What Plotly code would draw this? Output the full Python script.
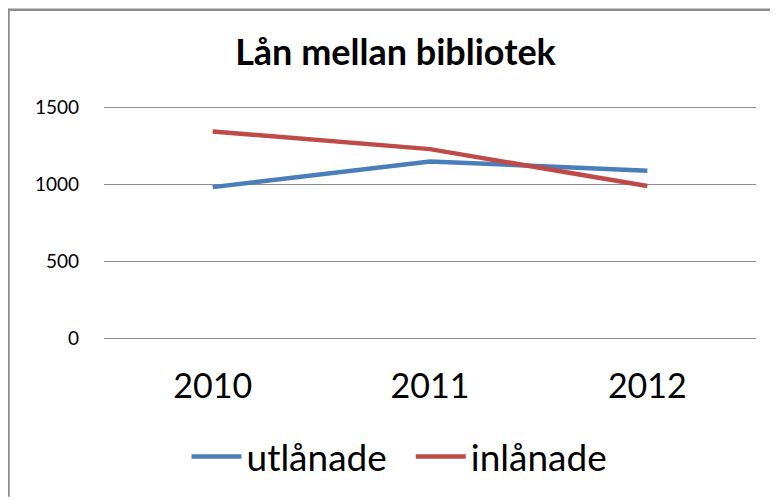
import plotly.graph_objects as go

years = ['2010', '2011', '2012']
utlanade = [983, 1150, 1090]
inlanade = [1345, 1230, 990]
y_ticks = [0, 500, 1000, 1500]

FONT = "Lato"

fig = go.Figure()

fig.add_trace(go.Scatter(
    x=years, y=utlanade, name='utlånade\u00a0\u00a0', mode='lines',
    line=dict(color='#4A7EBB', width=4.5)
))
fig.add_trace(go.Scatter(
    x=years, y=inlanade, name='inlånade', mode='lines',
    line=dict(color='#BE4B48', width=4.5)
))

# page body has an 8px margin, so the figure is drawn 8px in from the window edge
W, H = 770, 492
L, R, T, B = 96, 22, 98, 158
pw, ph = W - L - R, H - T - B

def px(xp):
    return (xp - L) / pw

def py(yp):
    return (H - B - yp) / ph

# chart border (only top and left visible)
fig.add_shape(type='line', xref='paper', yref='paper',
              x0=px(0), x1=px(W), y0=py(1), y1=py(1),
              line=dict(color='#8C8C8C', width=2.5))
fig.add_shape(type='line', xref='paper', yref='paper',
              x0=px(0.5), x1=px(0.5), y0=py(0), y1=py(H),
              line=dict(color='#8C8C8C', width=2.5))

fig.update_layout(
    width=W, height=H,
    margin=dict(l=L, r=R, t=T, b=B),
    paper_bgcolor='white', plot_bgcolor='white',
    title=dict(text='<b>Lån mellan bibliotek</b>', x=387.5 / W, y=1 - 44 / H,
               xanchor='center', yanchor='middle',
               font=dict(family=FONT, size=36, color='black')),
    legend=dict(orientation='h', x=px(391.5), y=py(452), xanchor='center', yanchor='middle',
                font=dict(family=FONT, size=37, color='black'),
                itemwidth=50, tracegroupgap=0),
    showlegend=True,
)

fig.update_xaxes(
    type='category', range=[-0.5, 2.5], showgrid=False, zeroline=False,
    showline=False, ticks='', ticklabelstandoff=23,
    tickfont=dict(family=FONT, size=34, color='black')
)
fig.update_yaxes(
    range=[-10, 1510], tickvals=y_ticks, showgrid=True, gridcolor='#8C8C8C', gridwidth=1,
    zeroline=False, showline=False, ticks='', ticklabelstandoff=24,
    tickfont=dict(family=FONT, size=19, color='black')
)

fig.write_html("out.html")
